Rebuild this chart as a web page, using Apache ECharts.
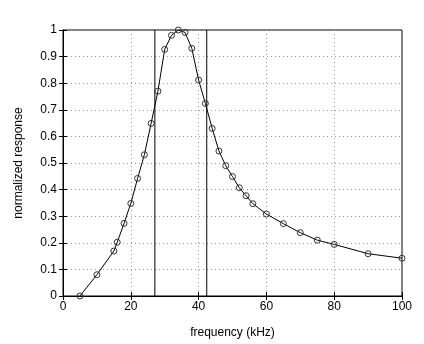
<!DOCTYPE html>
<html><head><meta charset="utf-8">
<script src="https://cdn.jsdelivr.net/npm/echarts@6/dist/echarts.min.js"></script>
<style>html,body{margin:0;padding:0;background:#fff}#c{width:424px;height:344px}</style>
</head><body><div id="c"></div>
<script>
const freqs = [5,10,15,16,18,20,22,24,26,28,30,32,34,36,38,40,42,44,46,48,50,52,54,56,60,65,70,75,80,90,100];
const response = [0,0.08,0.169,0.202,0.273,0.348,0.442,0.531,0.649,0.77,0.927,0.98,1.0,0.991,0.931,0.812,0.724,0.63,0.545,0.49,0.449,0.407,0.377,0.347,0.308,0.272,0.238,0.21,0.194,0.159,0.142];
const cutoffs = [27.1, 42.4];
const xTicks = [0,20,40,60,80,100];
const yTicks = [0,0.1,0.2,0.3,0.4,0.5,0.6,0.7,0.8,0.9,1];

const font = 'Liberation Sans, Arial, sans-serif';
const chart = echarts.init(document.getElementById('c'));
const curve = freqs.map((f,i)=>[f,response[i]]);
const vlines = cutoffs.map(c=>({
  type:'line', data:[[c,0],[c,1]], symbol:'none', silent:true,
  lineStyle:{color:'#000',width:1}, z:3
}));
const gridLine = {show:true,lineStyle:{color:'#999',type:[1,3],width:1}};
chart.setOption({
  animation:false,
  backgroundColor:'#fff',
  grid:{left:63,right:22,top:30,bottom:48,show:true,borderColor:'#000',borderWidth:1,backgroundColor:'transparent'},
  xAxis:[{
    type:'value',min:0,max:100,interval:20,
    name:'frequency (kHz)',nameLocation:'middle',nameGap:31,
    nameTextStyle:{color:'#000',fontSize:12,fontFamily:font},
    axisLine:{show:true,lineStyle:{color:'#000'}},
    axisTick:{show:true,inside:true,length:4,lineStyle:{color:'#000'}},
    axisLabel:{color:'#000',fontSize:12,fontFamily:font,margin:5},
    splitLine:gridLine
  },{
    type:'value',min:0,max:100,interval:20,position:'top',
    axisLine:{show:true,lineStyle:{color:'#000'}},
    axisTick:{show:true,inside:true,length:4,lineStyle:{color:'#000'}},
    axisLabel:{show:false},splitLine:{show:false}
  }],
  yAxis:[{
    type:'value',min:0,max:1,interval:0.1,
    name:'normalized response',nameLocation:'middle',nameGap:38,
    nameTextStyle:{color:'#000',fontSize:12,fontFamily:font},
    axisLine:{show:true,lineStyle:{color:'#000'}},
    axisTick:{show:true,inside:true,length:4,lineStyle:{color:'#000'}},
    axisLabel:{color:'#000',fontSize:12,fontFamily:font,margin:6},
    splitLine:gridLine
  },{
    type:'value',min:0,max:1,interval:0.1,position:'right',
    axisLine:{show:true,lineStyle:{color:'#000'}},
    axisTick:{show:true,inside:true,length:4,lineStyle:{color:'#000'}},
    axisLabel:{show:false},splitLine:{show:false}
  }],
  series:[{
    type:'line',data:curve,symbol:'circle',symbolSize:6,showSymbol:true,
    lineStyle:{color:'#000',width:1},
    itemStyle:{color:'rgba(255,255,255,0)',borderColor:'#333',borderWidth:1},
    z:4
  }].concat(vlines)
});
</script></body></html>
